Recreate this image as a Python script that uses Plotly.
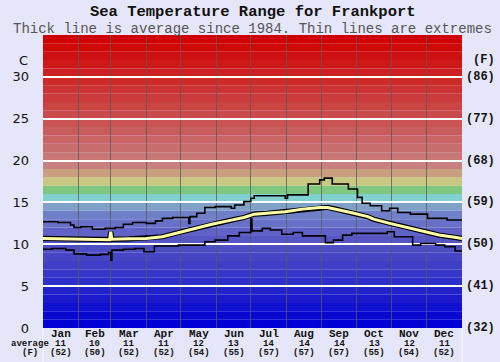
import plotly.graph_objects as go

# ---------------- data ----------------
months = ["Jan", "Feb", "Mar", "Apr", "May", "Jun", "Jul", "Aug", "Sep", "Oct", "Nov", "Dec"]
days_in_month = [31, 28, 31, 30, 31, 30, 31, 31, 30, 31, 30, 31]
avg_c = ["11", "10", "11", "11", "12", "13", "14", "14", "14", "13", "12", "11"]
avg_f = ["(52)", "(50)", "(52)", "(52)", "(54)", "(55)", "(57)", "(57)", "(57)", "(55)", "(54)", "(52)"]

c_ticks = [0, 5, 10, 15, 20, 25, 30]
f_ticks = ["(32)", "(41)", "(50)", "(59)", "(68)", "(77)", "(86)"]

max_day = [0, 13, 24, 27, 33, 43, 54, 63, 70, 78, 90, 98, 104, 113, 127, 128, 134, 141, 150,
           164, 167, 175, 181, 184, 211, 213, 231, 241, 245, 252, 266, 274, 278, 285, 295,
           302, 309, 320, 335, 352, 365]
max_val = [12.7, 12.6, 12.3, 12.0, 12.1, 11.8, 11.9, 12.0, 12.4, 12.6, 12.5, 12.8, 13.1, 13.2,
           12.5, 13.3, 13.7, 14.4, 14.5, 14.3, 14.7, 15.1, 15.5, 15.8, 15.5, 15.9, 17.2, 17.7,
           17.9, 17.2, 16.6, 15.6, 14.9, 14.6, 14.0, 14.3, 13.8, 13.6, 13.1, 12.9, 12.9]

min_day = [0, 8, 20, 27, 38, 50, 57, 59, 60, 70, 80, 88, 97, 118, 141, 150, 161, 171, 181,
           182, 191, 198, 208, 218, 226, 239, 246, 253, 261, 269, 300, 306, 322, 329, 342,
           350, 359, 365]
min_val = [9.4, 9.5, 9.3, 8.85, 8.7, 8.8, 9.0, 8.1, 9.3, 9.4, 9.5, 9.1, 9.8, 9.9, 10.3, 10.5,
           11.0, 11.4, 13.0, 11.6, 11.9, 11.7, 11.2, 11.4, 11.0, 11.0, 10.2, 10.5, 11.1, 11.3,
           11.5, 10.9, 9.9, 10.1, 9.9, 9.7, 9.2, 9.2]

avg_day = [0, 15, 30, 45, 58, 59, 60, 75, 90, 104, 118, 132, 147, 161, 175, 184, 195, 211,
           226, 241, 248, 255, 268, 283, 288, 302, 317, 330, 345, 360, 365]
avg_val = [10.7, 10.65, 10.6, 10.55, 10.55, 11.5, 10.6, 10.65, 10.7, 10.9, 11.4, 11.9, 12.4,
           12.8, 13.2, 13.6, 13.7, 13.9, 14.2, 14.4, 14.4, 14.2, 13.8, 13.3, 13.0, 12.5, 12.0,
           11.6, 11.1, 10.8, 10.7]

# ---------------- derived positions ----------------
bounds = [0]
for d in days_in_month:
    bounds.append(bounds[-1] + d)
centers = [(bounds[i] + bounds[i + 1]) / 2 for i in range(12)]
year_len = bounds[-1]

# ---------------- background colour bands (1 degree each) ----------------
def band_color(i):
    low = {
        0: (0, 0, 212), 1: (8, 8, 208), 2: (16, 16, 208), 3: (26, 26, 204), 4: (34, 34, 204),
        5: (46, 46, 200), 6: (54, 54, 200), 7: (62, 62, 198), 8: (70, 70, 196), 9: (78, 78, 196),
        10: (86, 86, 196), 11: (96, 98, 200), 12: (104, 112, 200), 13: (112, 128, 200),
        14: (128, 160, 200), 15: (128, 208, 208), 16: (128, 200, 128), 17: (200, 200, 128),
        18: (200, 160, 128), 19: (200, 128, 128),
    }
    if i in low:
        return "rgb(%d,%d,%d)" % low[i]
    t = (i - 20) / 14.0
    g = int(118 * (1 - t))
    return "rgb(%d,%d,%d)" % (200 + int(8 * t), g, g)

shapes = []
for i in range(35):
    shapes.append(dict(type="rect", xref="paper", yref="y", x0=0, x1=1, y0=i, y1=i + 1,
                       fillcolor=band_color(i), line=dict(width=0), layer="below"))

# faint light lines below plot edges
for xp in (0, 1):
    shapes.append(dict(type="line", xref="paper", yref="paper", x0=xp, x1=xp, y0=0, y1=-0.2,
                       line=dict(color="rgba(255,255,255,0.8)", width=1)))

fig = go.Figure()

fig.add_trace(go.Scatter(x=max_day, y=max_val, mode="lines", line=dict(color="black", width=1.6, shape="hv"),
                         hoverinfo="skip", showlegend=False))
fig.add_trace(go.Scatter(x=min_day, y=min_val, mode="lines", line=dict(color="black", width=1.6, shape="hv"),
                         hoverinfo="skip", showlegend=False))
fig.add_trace(go.Scatter(x=avg_day, y=avg_val, mode="lines", line=dict(color="black", width=5.2),
                         hoverinfo="skip", showlegend=False))
fig.add_trace(go.Scatter(x=avg_day, y=avg_val, mode="lines", line=dict(color="#ffffa8", width=3),
                         hoverinfo="skip", showlegend=False))

mono = "Liberation Mono, Courier New, monospace"
sans = "DejaVu Sans, Verdana, sans-serif"

ann = []
ann.append(dict(text="<b>Sea Temperature Range for Frankport</b>", xref="paper", yref="paper",
                x=0.5, y=1, xanchor="center", yanchor="middle", yshift=23, showarrow=False,
                font=dict(family=mono, size=15.5, color="#111")))
ann.append(dict(text="Thick line is average since 1984. Thin lines are extremes", xref="paper", yref="paper",
                x=0.5, y=1, xanchor="center", yanchor="middle", yshift=6.5, showarrow=False,
                font=dict(family=mono, size=14, color="#555")))
ann.append(dict(text="C", xref="paper", yref="y", x=0, y=32, xanchor="right", yanchor="middle",
                xshift=-13, showarrow=False, font=dict(family=sans, size=13, color="#111")))
ann.append(dict(text="<b>(F)</b>", xref="paper", yref="y", x=1, y=32, xanchor="left", yanchor="middle",
                xshift=9, showarrow=False, font=dict(family=mono, size=12, color="#111")))
for v, lab in zip(c_ticks, f_ticks):
    ann.append(dict(text="<b>%s</b>" % lab, xref="paper", yref="y", x=1, y=v, xanchor="left",
                    yanchor="middle", xshift=2, showarrow=False, font=dict(family=mono, size=12, color="#111")))
for cx, m, c, f in zip(centers, months, avg_c, avg_f):
    ann.append(dict(text="<b>%s</b>" % m, xref="x", yref="paper", x=cx, y=0, xanchor="center",
                    yanchor="middle", yshift=-5.5, showarrow=False, borderpad=0,
                    font=dict(family=mono, size=11, color="#111")))
    ann.append(dict(text="<b>%s</b>" % c, xref="x", yref="paper", x=cx, y=0, xanchor="center",
                    yanchor="middle", yshift=-16, showarrow=False, borderpad=0,
                    font=dict(family=mono, size=9, color="#111")))
    ann.append(dict(text="<b>%s</b>" % f, xref="x", yref="paper", x=cx, y=0, xanchor="center",
                    yanchor="middle", yshift=-24.5, showarrow=False, borderpad=0,
                    font=dict(family=mono, size=9, color="#111")))
ann.append(dict(text="<b>average</b>", xref="paper", yref="paper", x=0, y=0, xanchor="center",
                yanchor="middle", xshift=-13, yshift=-16, showarrow=False, borderpad=0,
                font=dict(family=mono, size=9, color="#111")))
ann.append(dict(text="<b>(F)</b>", xref="paper", yref="paper", x=0, y=0, xanchor="center",
                yanchor="middle", xshift=-13, yshift=-24.5, showarrow=False, borderpad=0,
                font=dict(family=mono, size=9, color="#111")))

fig.update_layout(
    width=500, height=362,
    margin=dict(l=35, r=38, t=35, b=34),
    paper_bgcolor="#e6e6fa",
    plot_bgcolor="#e6e6fa",
    shapes=shapes,
    annotations=ann,
    showlegend=False,
    xaxis=dict(range=[0, year_len], showgrid=False, zeroline=False, showticklabels=False, ticks="",
               minor=dict(tickvals=bounds[1:-1], showgrid=True, gridcolor="rgba(90,90,90,0.75)", gridwidth=1),
               fixedrange=True),
    yaxis=dict(range=[0, 35], tickvals=c_ticks, showgrid=True, gridcolor="white", gridwidth=1.6,
               zeroline=False, ticks="", ticklabelstandoff=13,
               tickfont=dict(family=sans, size=13, color="#111"), fixedrange=True),
)

fig.write_html(
    "out.html",
    config={"displayModeBar": False},
    post_script="document.body.style.margin='0';document.body.style.padding='0';document.body.style.overflow='hidden';",
)
